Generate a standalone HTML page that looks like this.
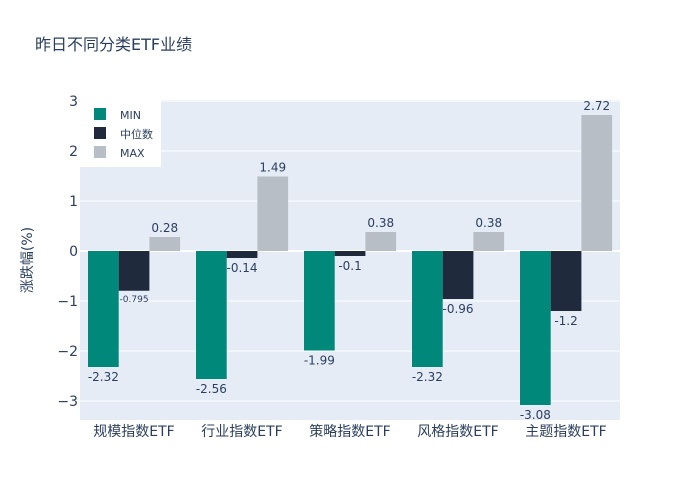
<!DOCTYPE html>
<html><head><meta charset="utf-8"><style>
body{margin:0;background:#fff;font-family:"DejaVu Sans","Noto Sans CJK SC",sans-serif;}
text{font-family:"DejaVu Sans","Noto Sans CJK SC",sans-serif;}
</style></head><body>
<svg id="chart" width="700" height="500">
<text x="35" y="50" font-size="16" fill="#2a3f5f">昨日不同分类ETF业绩</text>
<rect x="80" y="100" width="540" height="320" fill="#e5ecf6"/>
<g id="grid"></g><g id="bars"></g><g id="labels"></g>
<text transform="translate(32,260) rotate(-90)" text-anchor="middle" font-size="14" fill="#2a3f5f">涨跌幅(%)</text>
<g>
<rect x="80" y="100" width="81" height="67" fill="#fff"/>
<rect x="94" y="108" width="12" height="12" fill="#00897b"/>
<text x="120" y="119" font-size="11" fill="#2a3f5f">MIN</text>
<rect x="94" y="127" width="12" height="12" fill="#1f2a3c"/>
<text x="120" y="138" font-size="11" fill="#2a3f5f">中位数</text>
<rect x="94" y="146" width="12" height="12" fill="#b8bec6"/>
<text x="120" y="157" font-size="11" fill="#2a3f5f">MAX</text>
</g>
</svg>
<script>
const categories=["规模指数ETF","行业指数ETF","策略指数ETF","风格指数ETF","主题指数ETF"];
const minVals=[-2.32,-2.56,-1.99,-2.32,-3.08];
const medVals=[-0.795,-0.14,-0.1,-0.96,-1.2];
const maxVals=[0.28,1.49,0.38,0.38,2.72];
const yTicks=[-3,-2,-1,0,1,2,3];
const NS="http://www.w3.org/2000/svg";
const y=v=>251-v*50;
const catX=i=>80+108*i+54;
function mk(tag,attrs,parent,txt){const e=document.createElementNS(NS,tag);for(const k in attrs)e.setAttribute(k,attrs[k]);if(txt!==undefined)e.textContent=txt;parent.appendChild(e);return e;}
const grid=document.getElementById('grid'),bars=document.getElementById('bars'),labels=document.getElementById('labels'),svg=document.getElementById('chart');
yTicks.forEach(t=>{
  const l=mk('line',{x1:80,x2:620,y1:y(t),y2:y(t),stroke:'#fff','stroke-width':t===0?2:1},grid);
  
  
  const tx=mk('text',{x:78,y:y(t)+5,'text-anchor':'end','font-size':14,fill:'#2a3f5f'},svg,t<0?'−'+Math.abs(t):String(t));
  
  
});
const series=[[minVals,'#00897b','min'],[medVals,'#1f2a3c','median'],[maxVals,'#b8bec6','max']];
categories.forEach((c,i)=>{
  const cx=catX(i);
  const ct=mk('text',{x:cx,y:436,'text-anchor':'middle','font-size':14,fill:'#2a3f5f'},svg,c);
  
  
  series.forEach((s,j)=>{
    const v=s[0][i];const x0=cx-46+j*30.7;
    const top=Math.min(y(v),y(0)),h=Math.abs(y(v)-y(0));
    const r=mk('rect',{x:x0,y:top,width:30.7,height:h,fill:s[1]},bars);
    
    
    const small=s[0][i]===-0.795;
    const ly=v>=0?y(v)-5:y(v)+(small?11:14);
    const lt=mk('text',{x:x0+15.35,y:ly,'text-anchor':'middle','font-size':small?9:12,fill:'#2a3f5f'},labels,String(v));
    
    
  });
});
</script>
</body></html>
